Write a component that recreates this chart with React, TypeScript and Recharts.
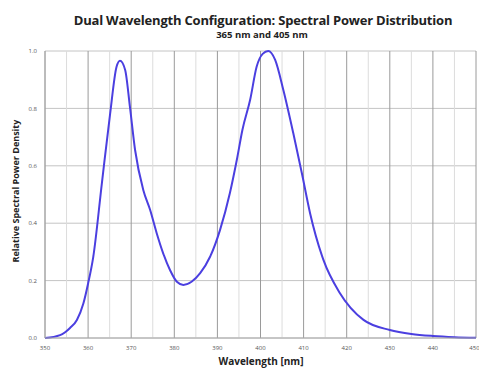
import { LineChart, Line, XAxis, YAxis, CartesianGrid, ReferenceLine } from 'recharts';

// wavelength (nm) and relative spectral power density
const wavelengths = [
  350, 353.5, 355.8, 357.4, 358.9, 360, 361.2, 363.2, 365.1, 366.6, 367.4, 368.6, 369.7, 370.9,
  372.8, 374.4, 375.9, 377.4, 379, 380.6, 382.1, 384, 386, 388.3, 390.6, 392.9, 394.5, 395.8,
  397.6, 399.1, 400.5, 401.8, 403.4, 405.3, 407.6, 409.6, 411.5, 414.6, 418.4, 423.9, 430, 435,
  440, 445, 450,
];
const density = [
  0.0, 0.01, 0.035, 0.063, 0.12, 0.19, 0.283, 0.54, 0.78, 0.945, 0.966, 0.934, 0.806, 0.655,
  0.516, 0.446, 0.366, 0.296, 0.237, 0.196, 0.185, 0.196, 0.226, 0.283, 0.376, 0.505, 0.62, 0.725,
  0.83, 0.945, 0.99, 1.0, 0.969, 0.864, 0.714, 0.574, 0.435, 0.272, 0.157, 0.063, 0.028, 0.014,
  0.007, 0.003, 0.001,
];
const xTicks = [350, 360, 370, 380, 390, 400, 410, 420, 430, 440, 450];
const xMinor = [355, 365, 375, 385, 395, 405, 415, 425, 435, 445];
const yTicks = [0, 0.2, 0.4, 0.6, 0.8, 1.0];

const data = wavelengths.map((w, i) => ({ w, v: density[i] }));

const FONT = '"Open Sans", "Liberation Sans", sans-serif';

export default function App() {
  return (
    <div style={{ position: 'absolute', left: 0, top: 0, width: 479, height: 374, background: '#fff', fontFamily: FONT }}>
      {/* titles */}
      <div style={{ position: 'absolute', left: 0, width: 526, top: 11, textAlign: 'center', fontSize: 13, fontWeight: 700, color: '#222', letterSpacing: -0.2 }}>
        Dual Wavelength Configuration: Spectral Power Distribution
      </div>
      <div style={{ position: 'absolute', left: 0, width: 524, top: 28, textAlign: 'center', fontSize: 9.5, fontWeight: 700, color: '#222' }}>
        365 nm and 405 nm
      </div>

      <LineChart width={479} height={374} data={data} margin={{ top: 51, right: 3, bottom: 22, left: 23 }}>
        <CartesianGrid horizontal vertical={false} stroke="#c4c4c4" />
        {xMinor.map((x) => (
          <ReferenceLine key={x} x={x} stroke="#dcdcdc" strokeWidth={1} />
        ))}
        {xTicks.map((x) => (
          <ReferenceLine key={x} x={x} stroke="#9a9a9a" strokeWidth={1} />
        ))}
        <XAxis
          dataKey="w"
          type="number"
          domain={[350, 450]}
          ticks={xTicks}
          tickLine={false}
          axisLine={{ stroke: '#aaa' }}
          tick={{ fontSize: 6, fill: '#555' }}
          tickMargin={2}
          height={14}
        />
        <YAxis
          type="number"
          domain={[0, 1]}
          ticks={yTicks}
          tickFormatter={(v: number) => v.toFixed(1)}
          tickLine={false}
          axisLine={{ stroke: '#aaa' }}
          tick={{ fontSize: 6, fill: '#555' }}
          width={22}
        />
        <Line
          type="monotone"
          dataKey="v"
          stroke="#4b3fe0"
          strokeWidth={2}
          dot={false}
          isAnimationActive={false}
        />
      </LineChart>

      {/* axis titles */}
      <div style={{ position: 'absolute', left: 0, width: 522, top: 354, textAlign: 'center', fontSize: 10, fontWeight: 700, color: '#222' }}>
        Wavelength [nm]
      </div>
      <div
        style={{
          position: 'absolute',
          left: 15,
          top: 191,
          transform: 'translate(-50%, -50%) rotate(-90deg)',
          whiteSpace: 'nowrap',
          fontSize: 9,
          fontWeight: 700,
          color: '#222',
        }}
      >
        Relative Spectral Power Density
      </div>
    </div>
  );
}
